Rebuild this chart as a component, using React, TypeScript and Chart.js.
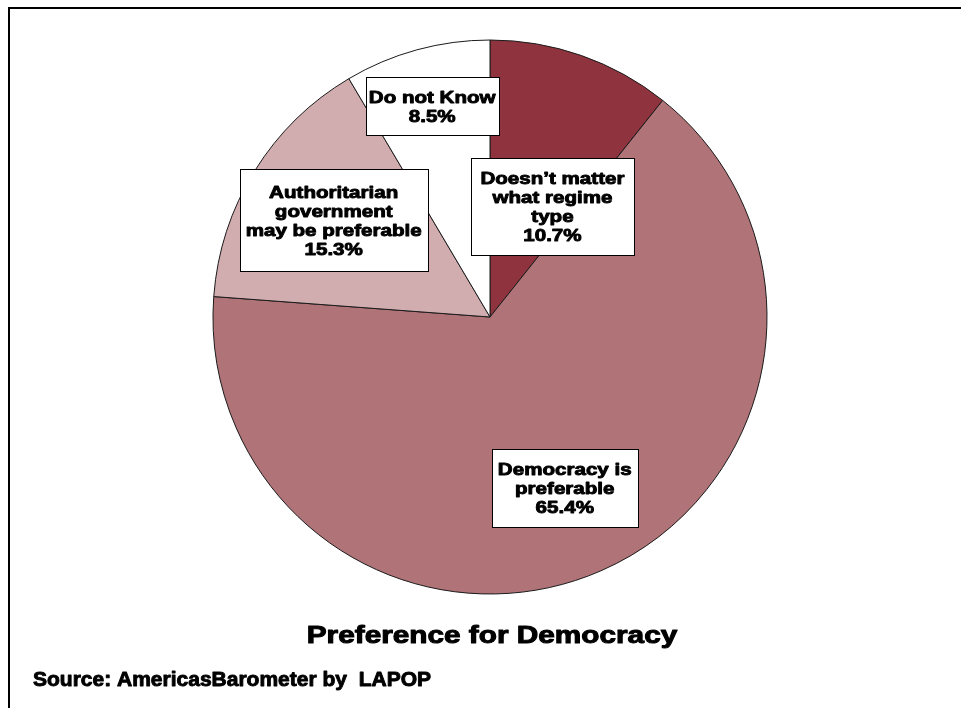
import React, { useEffect, useRef } from "react";
import { Chart, registerables } from "chart.js";

Chart.register(...registerables);

// ---- data ----
const categories = [
  "Doesn’t matter what regime type",
  "Democracy is preferable",
  "Authoritarian government may be preferable",
  "Do not Know",
];
const labelLines = [
  ["Doesn’t matter", "what regime", "type"],
  ["Democracy is", "preferable"],
  ["Authoritarian", "government", "may be preferable"],
  ["Do not Know"],
];
const values = [10.7, 65.4, 15.3, 8.5];
const sliceColors = ["#8F343E", "#B07378", "#D2ADB0", "#FFFFFF"];
const chartTitle = "Preference for Democracy";
const sourceNote = "Source: AmericasBarometer by  LAPOP";

// ---- layout (label boxes placed relative to their slice) ----
const labelLayout = [
  { radial: 0.458, angleShift: 10.2, w: 163, h: 97 },
  { radial: 0.674, angleShift: 0, w: 146, h: 78 },
  { radial: 0.664, angleShift: 0, w: 188, h: 102 },
  { radial: 0.79, angleShift: 0, w: 133, h: 58 },
];

const FONT = "'Liberation Sans', Arial, sans-serif";

function stretchedText(
  ctx: CanvasRenderingContext2D,
  text: string,
  x: number,
  y: number,
  sx: number,
  align: CanvasTextAlign,
  weight: number
) {
  ctx.save();
  ctx.translate(x, y);
  ctx.scale(sx, 1);
  ctx.textAlign = align;
  ctx.fillText(text, 0, 0);
  ctx.lineWidth = weight;
  ctx.strokeStyle = "#000000";
  ctx.lineJoin = "round";
  ctx.strokeText(text, 0, 0);
  ctx.restore();
}

const labelPlugin = {
  id: "boxLabels",
  afterDatasetsDraw(chart: any) {
    const ctx: CanvasRenderingContext2D = chart.ctx;
    const meta = chart.getDatasetMeta(0);
    meta.data.forEach((arc: any, i: number) => {
      const lay = labelLayout[i];
      const mid = (arc.startAngle + arc.endAngle) / 2 + (lay.angleShift * Math.PI) / 180;
      const rr = arc.outerRadius * lay.radial;
      const cx = arc.x + Math.cos(mid) * rr;
      const cy = arc.y + Math.sin(mid) * rr;
      const lines = [...labelLines[i], values[i].toFixed(1) + "%"];
      ctx.save();
      const bx = Math.round(cx - lay.w / 2) + 0.5;
      const by = Math.round(cy - lay.h / 2) + 0.5;
      ctx.fillStyle = "#FFFFFF";
      ctx.fillRect(bx, by, lay.w, lay.h);
      ctx.strokeStyle = "#000000";
      ctx.lineWidth = 1;
      ctx.strokeRect(bx, by, lay.w, lay.h);
      ctx.fillStyle = "#000000";
      ctx.font = `bold 17px ${FONT}`;
      ctx.textBaseline = "middle";
      const lh = 19;
      const top = cy - ((lines.length - 1) * lh) / 2;
      lines.forEach((ln, k) => {
        stretchedText(ctx, ln, cx, top + k * lh + 1.5, 1.21, "center", 0.9);
      });
      ctx.restore();
    });
  },
  afterDraw(chart: any) {
    const ctx: CanvasRenderingContext2D = chart.ctx;
    const meta = chart.getDatasetMeta(0);
    const arc = meta.data[0];
    ctx.save();
    ctx.fillStyle = "#000000";
    ctx.textBaseline = "alphabetic";
    ctx.font = `bold 24px ${FONT}`;
    stretchedText(ctx, chartTitle, arc.x + 2, arc.y + 326, 1.24, "center", 1);
    ctx.font = `bold 20px ${FONT}`;
    stretchedText(ctx, sourceNote, 23, chart.height - 22, 1.05, "left", 0.9);
    ctx.restore();
  },
};

export default function App() {
  const ref = useRef<HTMLCanvasElement | null>(null);
  useEffect(() => {
    if (!ref.current) return;
    const chart = new Chart(ref.current, {
      type: "pie",
      data: {
        labels: categories,
        datasets: [
          {
            data: values,
            backgroundColor: sliceColors,
            borderColor: "#1a1a1a",
            borderWidth: 1,
            radius: 277,
            hoverOffset: 0,
          } as any,
        ],
      },
      options: {
        responsive: false,
        animation: false,
        devicePixelRatio: 1,
        layout: { padding: { left: 9, right: 0, top: 0, bottom: 83 } },
        plugins: {
          legend: { display: false },
          tooltip: { enabled: false },
          title: { display: false },
        },
        events: [],
      } as any,
      plugins: [labelPlugin],
    });
    return () => chart.destroy();
  }, []);

  return (
    <div
      style={{
        position: "absolute",
        left: 8,
        top: 7,
        width: 953,
        height: 701,
        boxSizing: "border-box",
        borderTop: "2px solid #000",
        borderLeft: "2px solid #000",
        background: "#fff",
        overflow: "hidden",
      }}
    >
      <canvas
        ref={ref}
        width={951}
        height={699}
        style={{ position: "absolute", left: 0, top: 0, width: 951, height: 699 }}
      />
    </div>
  );
}
